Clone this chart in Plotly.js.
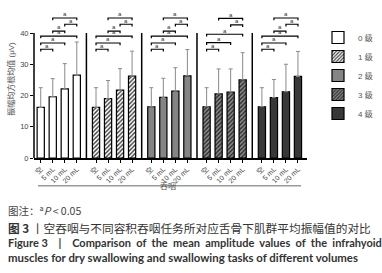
<!DOCTYPE html>
<html><head><meta charset="utf-8">
<script src="https://cdn.plot.ly/plotly-3.0.1.min.js"></script>
<style>html,body{margin:0;padding:0;background:#fff}#chart{width:382px;height:273px}</style>
</head><body><div id="chart"></div>
<script>
// ---- data ----
const grades = ["0 级", "1 级", "2 级", "3 级", "4 级"];
const volumes = ["空", "5 mL", "10 mL", "20 mL"];
const mean0 = [16.2, 19.6, 22.1, 26.5];
const mean1 = [16.2, 19.0, 21.7, 26.2];
const mean2 = [16.4, 19.4, 21.4, 26.3];
const mean3 = [16.4, 20.5, 21.1, 25.0];
const mean4 = [16.4, 19.3, 21.2, 26.1];
const err0 = [6.3, 5.8, 8.1, 10.6];
const err1 = [6.3, 5.8, 6.9, 8.0];
const err2 = [6.1, 6.1, 7.5, 8.4];
const err3 = [6.1, 8.0, 7.4, 8.7];
const err4 = [6.1, 5.8, 8.8, 8.0];
// significance brackets (panel, from bar, to bar, height)
const sigPanel = [0,0,0,0,0,0, 1,1,1,1,1,1, 2,2,2,2,2,2, 3,3,3,3,3, 4,4,4,4,4,4];
const sigFrom  = [0,0,0,1,2,1, 0,0,0,1,2,1, 0,0,0,1,2,1, 0,0,0,2,1, 0,0,0,1,2,1];
const sigTo    = [1,2,3,2,3,3, 1,2,3,2,3,3, 1,2,3,2,3,3, 1,2,3,3,3, 1,2,3,2,3,3];
const sigLevel = [34.8,36.8,39.0,40.6,42.8,44.8, 34.8,36.8,39.0,40.6,42.8,44.8,
                  34.8,36.8,39.0,40.6,42.8,44.8, 34.8,36.9,39.6,42.6,44.7,
                  34.8,36.8,39.0,40.6,42.8,44.8];
const sigLabel = "a";
const xGroupLabel = "吞咽";
const yTitle = "振幅均方根均值 (μV)";

// ---- layout helpers ----
const means = [mean0, mean1, mean2, mean3, mean4];
const errs = [err0, err1, err2, err3, err4];
const STEP = 4.6;
const xpos = (p, i) => p * STEP + i;
const L = 34, R = 75, T = 0, B = 115, W = 382 - L - R, H = 273 - T - B;
const px2x = px => (px - L) / W;
const px2y = py => (T + H - py) / H;

const styles = [
  {color: "#ffffff"},
  {color: "#ffffff", pattern: {shape: "/", bgcolor: "#ffffff", fgcolor: "#3a3a3a", size: 3, solidity: 0.45}},
  {color: "#858585"},
  {color: "#7a7a7a", pattern: {shape: "/", bgcolor: "#8c8c8c", fgcolor: "#2a2a2a", size: 3, solidity: 0.45}},
  {color: "#383838"}
];

const traces = grades.map((g, p) => {
  const m = {color: styles[p].color, line: {color: "#000", width: 1.2}};
  if (styles[p].pattern) m.pattern = styles[p].pattern;
  return {
    type: "bar", name: g,
    x: volumes.map((v, i) => xpos(p, i)),
    y: means[p], width: 0.6, marker: m,
    error_y: {type: "data", symmetric: false, array: errs[p], arrayminus: errs[p].map(() => 0),
              color: "#8a8a8a", thickness: 1, width: 2}
  };
});

const tickvals = [], ticktext = [];
grades.forEach((g, p) => volumes.forEach((v, i) => { tickvals.push(xpos(p, i)); ticktext.push(v); }));

const shapes = [];
const annotations = [];
// y axis line up to 40
shapes.push({type: "line", xref: "paper", yref: "y", x0: 0, x1: 0, y0: 0, y1: 40, line: {color: "#000", width: 1.5}});
// panel dividers
for (let p = 0; p < grades.length - 1; p++) {
  const xd = xpos(p, 3) + (STEP - 3) / 2;
  shapes.push({type: "line", xref: "x", yref: "y", x0: xd, x1: xd, y0: 0, y1: 40, line: {color: "#000", width: 1.5}});
}
// significance brackets
sigPanel.forEach((p, k) => {
  const x1 = xpos(p, sigFrom[k]), x2 = xpos(p, sigTo[k]), y = sigLevel[k];
  shapes.push({type: "path", xref: "x", yref: "y",
    path: `M${x1},${y - 0.7} L${x1},${y} L${x2},${y} L${x2},${y - 0.7}`,
    line: {color: "#000", width: 1.2}});
  annotations.push({xref: "x", yref: "y", x: (x1 + x2) / 2, y: y - 0.4, yanchor: "bottom", showarrow: false,
    text: sigLabel, font: {size: 6, color: "#333"}});
});
// group line and label
shapes.push({type: "line", xref: "paper", yref: "paper", x0: px2x(38), x1: px2x(301), y0: px2y(185.7), y1: px2y(185.7),
  line: {color: "#9a9a9a", width: 1.5}});
annotations.push({xref: "paper", yref: "paper", x: px2x(168), y: px2y(192.5), showarrow: false,
  text: xGroupLabel, font: {size: 8, color: "#555"}});
// captions
const capFont = "Noto Sans CJK SC, sans-serif";
const gap = "\u00a0\u00a0\u00a0\u00a0";
const line1rest = "Comparison of the mean amplitude values of the infrahyoid".split(" ").join(" \u00a0");
annotations.push({xref: "paper", yref: "paper", x: px2x(6), y: px2y(210), xanchor: "left", yanchor: "middle", showarrow: false,
  text: "图注：<sup>a</sup><i>P</i> < 0.05", font: {family: capFont, size: 10.5, color: "#444"}});
annotations.push({xref: "paper", yref: "paper", x: px2x(6), y: px2y(227.3), xanchor: "left", yanchor: "middle", showarrow: false,
  text: "<b>图 3</b> 丨空吞咽与不同容积吞咽任务所对应舌骨下肌群平均振幅值的对比", font: {family: capFont, size: 11.7, color: "#333"}});
annotations.push({xref: "paper", yref: "paper", x: px2x(6), y: px2y(242.3), xanchor: "left", yanchor: "middle", showarrow: false,
  text: "<b>Figure 3" + gap + "|" + gap + line1rest + "</b>",
  font: {family: "Lato, sans-serif", size: 11, color: "#333"}});
annotations.push({xref: "paper", yref: "paper", x: px2x(6), y: px2y(257.7), xanchor: "left", yanchor: "middle", showarrow: false,
  text: "<b>muscles for dry swallowing and swallowing tasks of different volumes</b>", font: {family: "Lato, sans-serif", size: 11.4, color: "#333"}});

const layout = {
  width: 382, height: 273,
  margin: {l: L, r: R, t: T, b: B, pad: 0},
  paper_bgcolor: "#fff", plot_bgcolor: "#fff",
  font: {family: "Liberation Sans, Noto Sans CJK SC, sans-serif", color: "#444"},
  barmode: "overlay",
  showlegend: true,
  legend: {x: px2x(318), y: px2y(23), xanchor: "left", yanchor: "top", font: {size: 8, color: "#555"},
           bgcolor: "rgba(0,0,0,0)", itemwidth: 30, tracegroupgap: 0},
  xaxis: {range: [-0.56, -0.56 + W / 12.02], tickvals: tickvals, ticktext: ticktext, tickangle: -45,
          ticks: "outside", ticklen: 3, tickcolor: "#000", tickwidth: 1,
          showline: true, linecolor: "#000", linewidth: 1.5, showgrid: false, zeroline: false,
          tickfont: {size: 7, color: "#444"}, fixedrange: true},
  yaxis: {range: [0, 40 + 33 / 3.125], tickvals: [0, 10, 20, 30, 40], ticks: "outside", ticklen: 3,
          tickcolor: "#000", tickwidth: 1, showline: false, showgrid: false, zeroline: false,
          tickfont: {size: 7.5, color: "#444"},
          title: {text: yTitle, font: {size: 8, color: "#555"}, standoff: 4}},
  shapes: shapes, annotations: annotations
};
Plotly.newPlot("chart", traces, layout, {displayModeBar: false, staticPlot: true});
</script></body></html>
